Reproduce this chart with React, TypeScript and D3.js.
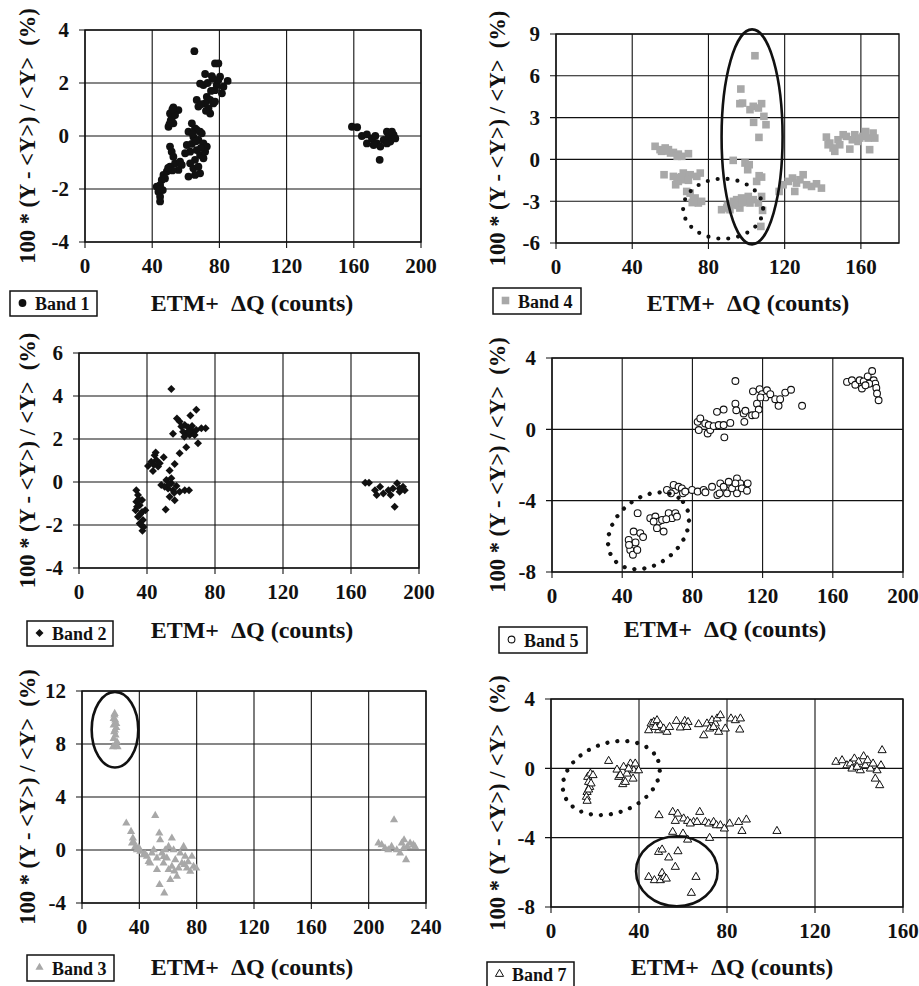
import React from 'react';
import * as d3 from 'd3';

// ---------- DATA ----------
const band1: [number, number][] = [
  [65.1, 3.2], [77.4, 2.74], [79.4, 2.74], [71.5, 2.34], [75.5, 2.26], [80.4, 2.24], [84.9, 2.08],
  [68.5, 1.98], [70.5, 1.92], [78.4, 1.92], [82.4, 1.86], [81.5, 1.61], [77.4, 1.73], [72.5, 1.48],
  [74.5, 1.36], [66.5, 1.36], [67.5, 1.11], [71.5, 1.23], [73.5, 1.04], [76.4, 1.23], [74.5, 0.85],
  [77.4, 1.3], [79.4, 2.11], [76.0, 2.17], [73.0, 2.0], [75.0, 1.7], [69.0, 1.2], [72.0, 0.95],
  [52.6, 1.08], [55.6, 0.98], [50.6, 0.85], [51.6, 0.67], [49.7, 0.35], [52.6, 0.48], [51.0, 0.58],
  [50.3, 0.45], [53.6, 0.79], [52.0, 1.0],
  [63.6, 0.48], [65.5, 0.29], [68.5, 0.16], [61.6, 0.16], [64.5, -0.03], [67.5, -0.15], [70.5, -0.28],
  [72.5, -0.4], [60.6, -0.34], [62.6, -0.59], [59.6, -0.65], [66.5, -0.53], [68.5, -0.72], [70.5, -0.84],
  [65.5, -0.9], [62.6, -1.03], [64.5, -1.22], [67.5, -1.16], [61.6, -1.53], [65.5, -1.47], [68.5, -1.41],
  [69.5, 0.1], [66.5, 0.23], [71.5, -0.59], [63.5, -0.3], [66.0, -0.2], [69.0, -0.45], [64.0, 0.1],
  [50.6, -0.4], [51.6, -0.59], [52.6, -0.78], [53.6, -1.03], [56.6, -0.97], [50.6, -1.16], [48.7, -1.34],
  [46.7, -1.47], [45.7, -1.66], [44.7, -1.85], [42.7, -1.91], [43.7, -2.1], [44.7, -2.29], [44.7, -2.47],
  [46.3, -2.04], [47.6, -1.6], [57.6, -1.09], [55.6, -1.28], [52.0, -1.3], [49.5, -1.2], [45.0, -2.0],
  [158.9, 0.35], [162.0, 0.33], [164.8, 0.0], [167.8, 0.06], [167.8, -0.28], [170.8, -0.09], [172.8, 0.0],
  [173.8, -0.28], [175.8, -0.4], [175.4, -0.9], [177.8, -0.15], [179.7, 0.16], [180.7, -0.03], [181.7, -0.21],
  [183.7, 0.04], [184.7, -0.09], [182.7, 0.16], [179.7, -0.28], [171.8, -0.34],
];

const band4: [number, number][] = [
  [104.4, 7.44], [97.0, 5.05], [96.5, 4.0], [97.9, 4.04], [107.9, 4.0], [103.5, 3.81], [101.8, 3.57],
  [106.2, 3.69], [109.1, 3.09], [110.2, 2.49], [103.7, 2.66], [106.5, 1.58],
  [93.0, -0.07], [99.2, -0.26], [100.6, -0.74], [101.4, -0.38], [105.3, -1.58], [107.9, -1.27], [106.6, -1.17],
  [86.9, -3.61], [89.6, -3.49], [92.2, -3.25], [94.8, -2.89], [96.5, -3.49], [99.2, -3.01], [100.9, -2.66],
  [103.5, -2.89], [106.2, -3.13], [107.9, -2.66], [108.4, -3.66], [107.5, -4.81], [93.1, -3.01], [91.3, -3.61],
  [97.4, -2.77], [101.8, -3.13], [95.5, -3.3], [98.0, -3.1], [90.0, -3.3],
  [52.0, 0.94], [54.6, 0.7], [57.3, 0.82], [59.0, 0.7], [61.6, 0.5], [64.2, 0.38], [66.0, 0.22], [69.5, 0.41],
  [55.4, 0.58], [60.1, 0.46], [63.6, 0.22], [58.0, 0.6],
  [56.7, -1.1], [61.6, -1.22], [64.2, -1.58], [66.8, -0.98], [70.4, -1.1], [73.9, -1.22], [75.7, -0.98],
  [62.8, -1.82], [67.8, -1.46], [70.4, -2.42], [73.0, -2.77], [74.7, -3.13], [72.1, -2.89], [68.6, -2.3],
  [76.4, -3.01], [63.5, -1.3], [66.0, -1.25], [71.5, -3.1], [69.5, -1.5],
  [117.1, -2.3], [119.2, -1.82], [121.9, -1.58], [124.1, -1.34], [125.3, -2.3], [126.2, -1.7], [129.7, -1.1],
  [131.5, -1.82], [134.1, -1.94], [136.7, -1.75], [139.3, -2.06], [128.0, -1.46],
  [141.9, 1.6], [143.7, 1.17], [145.4, 0.82], [146.3, 0.58], [148.0, 1.41], [150.7, 1.77], [152.4, 1.65],
  [154.2, 0.74], [155.5, 1.41], [156.8, 1.77], [158.5, 1.29], [161.1, 1.65], [162.5, 2.0], [163.8, 1.53],
  [164.6, 0.7], [166.4, 1.89], [167.3, 1.53], [142.8, 1.05], [148.9, 1.05], [159.4, 1.53],
];

const band2: [number, number][] = [
  [54.3, 4.33],
  [69.0, 3.36], [65.5, 3.09], [57.6, 2.95], [59.2, 2.81], [62.2, 2.65], [64.1, 2.55], [66.1, 2.42], [69.0, 2.42],
  [72.0, 2.5], [74.5, 2.5], [67.1, 2.27], [63.1, 2.27], [60.2, 2.58], [61.2, 2.34], [65.1, 2.19], [55.3, 2.24],
  [70.0, 1.8], [63.1, 1.62], [59.2, 1.34], [68.0, 2.19], [62.0, 2.1], [64.5, 2.35], [66.5, 2.6],
  [56.3, 0.84], [53.3, 0.53],
  [40.6, 0.74], [44.5, 1.25], [45.5, 1.02], [42.5, 0.94], [46.5, 0.72], [43.5, 0.51], [47.5, 0.87], [49.8, 1.15],
  [45.1, 1.37], [44.0, 0.8],
  [48.4, -0.14], [51.4, 0.09], [54.3, 0.17], [52.4, -0.3], [55.3, -0.38], [57.3, -0.19], [59.2, -0.45],
  [62.2, -0.38], [64.7, -0.38], [53.3, -0.69], [56.3, -0.85], [51.0, -1.28], [54.3, -0.06], [50.4, -0.22],
  [53.0, -0.1], [56.0, -0.5],
  [33.7, -0.38], [34.7, -0.61], [33.7, -0.92], [35.7, -1.08], [33.3, -1.31], [37.1, -1.39], [34.7, -1.62],
  [37.6, -1.77], [35.7, -1.93], [38.0, -2.09], [37.3, -2.27], [34.1, -1.15], [37.1, -0.84], [39.0, -1.31],
  [36.0, -1.5], [35.0, -0.8], [36.5, -2.0],
  [168.4, -0.03], [170.6, -0.03], [174.1, -0.38], [175.1, -0.61], [177.1, -0.22], [179.0, -0.53], [182.0, -0.38],
  [183.3, -0.61], [185.7, -1.15], [187.1, -0.06], [188.6, -0.45], [190.6, -0.22], [191.6, -0.38], [184.7, -0.3],
  [188.6, -0.3],
];

const band5: [number, number][] = [
  [168.1, 2.66], [170.9, 2.75], [172.8, 2.5], [175.3, 2.75], [177.6, 2.69], [176.6, 2.29], [179.9, 2.97],
  [182.4, 3.27], [183.3, 2.75], [184.2, 2.56], [184.8, 2.32], [185.2, 2.01], [186.1, 1.63], [180.7, 2.56],
  [178.6, 2.47],
  [83.0, 0.42], [84.5, 0.61], [83.6, -0.04], [87.3, 0.33], [88.7, -0.23], [90.2, -0.04], [89.3, 0.24],
  [92.1, 0.18], [94.0, 0.98], [95.0, 0.24], [97.8, 1.11], [98.2, -0.45], [97.8, 0.24], [101.6, 0.36],
  [104.5, 2.71], [104.5, 1.44], [105.0, 1.07], [109.2, 0.89], [110.2, 1.04], [109.6, 0.42], [114.0, 0.79],
  [114.5, 2.13], [116.8, 1.44], [117.8, 1.11], [118.3, 2.25], [119.7, 1.97], [121.6, 1.79], [122.5, 2.19],
  [124.4, 1.97], [127.2, 1.69], [129.1, 1.32], [130.0, 1.69], [132.9, 2.06], [136.2, 2.22], [142.5, 1.32],
  [118.8, 1.79], [115.9, 0.81],
  [70.3, -3.4], [69.3, -3.12], [72.1, -3.22], [74.0, -3.31], [74.6, -3.59], [75.9, -3.49], [65.5, -3.4],
  [67.8, -3.59], [79.8, -3.4], [83.0, -3.49], [86.4, -3.4], [87.4, -3.53], [91.2, -3.22], [94.2, -3.68],
  [95.5, -3.59], [95.9, -3.03], [97.8, -3.22], [99.7, -3.59], [101.6, -3.12], [102.6, -3.31], [105.4, -2.75],
  [105.4, -3.59], [107.3, -3.03], [108.2, -3.31], [111.1, -3.44], [111.5, -3.03], [104.5, -3.03], [100.7, -2.94],
  [48.8, -4.7], [56.0, -4.98], [58.9, -4.89], [60.8, -5.17], [62.7, -5.08], [59.8, -5.54], [63.6, -5.73],
  [66.5, -4.7], [68.4, -4.98], [70.3, -4.7], [71.2, -4.89], [65.1, -5.04], [57.9, -5.17], [46.5, -5.73],
  [50.3, -5.82], [51.9, -6.04], [43.7, -6.2], [44.6, -6.76], [46.1, -7.03], [47.6, -6.34], [48.6, -6.76],
  [43.9, -6.48],
];

const band3: [number, number][] = [
  [22.8, 10.3], [22.6, 10.17], [23.2, 9.8], [22.1, 9.42], [23.9, 9.24], [22.5, 8.91], [23.4, 8.66],
  [22.1, 8.41], [24.4, 8.16], [23.0, 7.91], [21.6, 7.79], [24.8, 7.79], [23.0, 9.04], [23.9, 9.54], [22.1, 9.92],
  [30.9, 2.02], [34.2, 1.39], [35.5, 0.89], [34.9, 0.51], [37.2, 0.26], [38.3, 0.01], [40.7, -0.11],
  [42.9, -0.36], [45.3, -0.49], [47.6, -0.99], [48.8, -0.24], [51.1, 2.6], [52.3, -0.61], [53.9, 1.27],
  [54.5, 0.76], [55.8, -0.24], [56.9, -0.99], [54.1, -2.62], [57.4, -3.25], [59.2, -0.61], [60.4, -1.49],
  [61.6, -2.24], [62.7, 0.89], [63.9, 0.01], [65.1, -0.74], [66.2, -1.99], [67.4, -1.37], [68.5, -0.24],
  [69.7, -0.99], [70.9, 0.26], [72.0, -0.49], [73.2, -1.37], [75.5, -1.62], [76.7, -0.49], [77.8, -1.24],
  [79.7, -1.37], [52.3, -1.49], [62.7, -1.24], [50.0, 0.01], [46.5, -0.87], [58.1, 0.01], [60.4, 0.26],
  [44.0, -0.3], [36.0, 0.6], [39.5, 0.2], [64.5, -1.6], [71.5, -1.1], [74.0, -0.9], [57.0, -0.5],
  [206.8, 0.51], [209.1, 0.39], [211.4, 0.14], [213.7, 0.01], [216.0, 0.26], [217.7, 2.27], [219.6, 0.01],
  [221.9, -0.24], [223.1, 0.51], [224.7, 0.76], [226.1, -0.74], [227.0, 0.26], [228.9, 0.51], [231.2, 0.39],
  [232.3, 0.26], [224.4, 0.14],
];

const band7: [number, number][] = [
  [44.4, 2.19], [45.5, 2.58], [46.7, 2.67], [48.2, 2.77], [48.9, 2.19], [49.7, 2.48], [51.2, 2.29], [52.7, 2.1],
  [53.9, 2.38], [57.0, 2.73], [58.8, 2.35], [60.8, 2.73], [62.3, 2.67], [61.8, 2.38], [67.1, 2.54], [69.4, 1.9],
  [70.9, 2.58], [72.1, 2.29], [73.2, 2.77], [74.7, 2.58], [75.5, 2.87], [76.2, 2.1], [77.0, 3.06], [79.2, 2.29],
  [81.8, 2.87], [83.8, 2.77], [85.8, 2.23], [86.1, 2.87], [73.9, 2.38], [47.4, 2.38],
  [16.7, -0.5], [17.9, -0.31], [19.1, -0.4], [17.1, -0.79], [17.6, -1.08], [16.4, -1.37], [16.1, -1.65],
  [16.4, -1.88], [18.2, -0.88], [17.1, -1.23],
  [26.2, 0.42], [30.0, -0.08], [30.8, -0.5], [33.0, 0.08], [32.6, -0.92], [33.8, -0.79], [34.5, -0.31],
  [36.1, 0.27], [37.3, -0.6], [37.6, -0.12], [38.3, 0.27], [39.8, -0.12], [31.5, -0.4], [35.3, -0.02],
  [49.1, -2.71], [55.3, -2.52], [57.6, -2.62], [56.5, -3.04], [60.3, -2.9], [62.1, -3.04], [64.8, -3.1],
  [67.6, -2.52], [70.2, -3.1], [71.7, -3.19], [73.9, -3.1], [75.2, -3.29], [77.0, -3.29], [78.8, -3.48],
  [81.2, -3.19], [85.3, -3.1], [86.8, -3.62], [88.8, -2.96], [55.3, -3.67], [60.0, -3.77], [62.1, -4.12],
  [72.1, -4.02], [102.7, -3.62], [66.4, -3.1], [63.3, -3.19],
  [48.9, -4.83], [50.5, -4.69], [53.5, -5.15], [57.7, -4.79], [56.5, -5.69], [44.4, -6.27], [47.0, -6.46],
  [49.7, -6.46], [50.5, -6.04], [51.5, -6.27], [52.4, -6.37], [65.9, -6.27], [63.8, -7.19],
  [129.5, 0.37], [132.3, 0.46], [134.5, 0.17], [136.1, 0.27], [136.8, -0.02], [137.9, 0.56], [139.8, 0.37],
  [140.6, -0.12], [142.1, 0.69], [142.9, 0.17], [143.9, 0.46], [145.2, -0.02], [146.4, 0.27], [147.4, -0.6],
  [148.2, -0.12], [149.4, -0.98], [150.5, 1.04], [150.0, 0.17], [139.1, 0.08],
];

// tick values
const xTicks200 = [0, 40, 80, 120, 160, 200];
const xTicks180 = [0, 40, 80, 120, 160];
const xTicks240 = [0, 40, 80, 120, 160, 200, 240];
const xTicks160 = [0, 40, 80, 120, 160];
const yTicksB1 = [-4, -2, 0, 2, 4];
const yTicksB4 = [-6, -3, 0, 3, 6, 9];
const yTicksB2 = [-4, -2, 0, 2, 4, 6];
const yTicksB5 = [-8, -4, 0, 4];
const yTicksB3 = [-4, 0, 4, 8, 12];
const yTicksB7 = [-8, -4, 0, 4];

const bandLabels = ['Band 1', 'Band 4', 'Band 2', 'Band 5', 'Band 3', 'Band 7'];
const xTitle = 'ETM+  \u0394Q (counts)';
const yTitle = '100 * (Y - <Y>) / <Y>  (%)';

// ---------- LAYOUT ----------
type Marker = 'filledCircle' | 'graySquare' | 'diamond' | 'openCircle' | 'grayTriangle' | 'openTriangle';
type Ell = { cx: number; cy: number; rx: number; ry: number; rot: number; dotted: boolean };
type Panel = {
  data: [number, number][];
  label: string;
  marker: Marker;
  L: number; T: number; R: number; B: number;
  xDomain: [number, number]; xTicks: number[];
  yDomain: [number, number]; yTicks: number[];
  legend: { x: number; y: number; w: number; h: number };
  xTitleX: number; xTitleY: number; yTitleX: number;
  ellipses: Ell[];
};

const panels: Panel[] = [
  {
    data: band1, label: bandLabels[0], marker: 'filledCircle',
    L: 85, T: 30, R: 421, B: 242, xDomain: [0, 200], xTicks: xTicks200, yDomain: [-4, 4], yTicks: yTicksB1,
    legend: { x: 10, y: 291, w: 87, h: 25 }, xTitleX: 252, xTitleY: 311, yTitleX: 27, ellipses: [],
  },
  {
    data: band4, label: bandLabels[1], marker: 'graySquare',
    L: 556, T: 34, R: 899, B: 243, xDomain: [0, 180], xTicks: xTicks180, yDomain: [-6, 9], yTicks: yTicksB4,
    legend: { x: 493, y: 288, w: 88, h: 26 }, xTitleX: 748, xTitleY: 311, yTitleX: 497,
    ellipses: [
      { cx: 102.9, cy: 1.62, rx: 30.5, ry: 107.5, rot: 0, dotted: false },
      { cx: 87.7, cy: -3.54, rx: 40, ry: 30, rot: 0, dotted: true },
    ],
  },
  {
    data: band2, label: bandLabels[2], marker: 'diamond',
    L: 79, T: 353, R: 419, B: 568, xDomain: [0, 200], xTicks: xTicks200, yDomain: [-4, 6], yTicks: yTicksB2,
    legend: { x: 27, y: 621, w: 86, h: 25 }, xTitleX: 252, xTitleY: 638, yTitleX: 27, ellipses: [],
  },
  {
    data: band5, label: bandLabels[3], marker: 'openCircle',
    L: 552, T: 358, R: 903, B: 572, xDomain: [0, 200], xTicks: xTicks200, yDomain: [-8, 4], yTicks: yTicksB5,
    legend: { x: 499, y: 627, w: 88, h: 26 }, xTitleX: 725, xTitleY: 637, yTitleX: 497,
    ellipses: [{ cx: 55, cy: -5.69, rx: 45, ry: 33, rot: -40, dotted: true }],
  },
  {
    data: band3, label: bandLabels[4], marker: 'grayTriangle',
    L: 82, T: 691, R: 426, B: 903, xDomain: [0, 240], xTicks: xTicks240, yDomain: [-4, 12], yTicks: yTicksB3,
    legend: { x: 27, y: 955, w: 87, h: 26 }, xTitleX: 252, xTitleY: 975, yTitleX: 27,
    ellipses: [{ cx: 23, cy: 9.08, rx: 23.3, ry: 37.8, rot: 0, dotted: false }],
  },
  {
    data: band7, label: bandLabels[5], marker: 'openTriangle',
    L: 551, T: 699, R: 903, B: 907, xDomain: [0, 160], xTicks: xTicks160, yDomain: [-8, 4], yTicks: yTicksB7,
    legend: { x: 487, y: 962, w: 87, h: 25 }, xTitleX: 732, xTitleY: 975, yTitleX: 497,
    ellipses: [
      { cx: 27.4, cy: -0.56, rx: 50, ry: 35, rot: -20, dotted: true },
      { cx: 57.2, cy: -5.94, rx: 40.8, ry: 35, rot: 0, dotted: false },
    ],
  },
];

const FONT = "'Liberation Serif', Tinos, 'Times New Roman', Times, 'DejaVu Serif', serif";
const INK = '#111';
const GRAY = '#a8a8a8';

const diamondPath = d3.symbol().type(d3.symbolSquare).size(32)() as string;
const trianglePath = d3.symbol().type(d3.symbolTriangle).size(29)() as string;

function Mark({ type, x, y }: { type: Marker; x: number; y: number }) {
  switch (type) {
    case 'filledCircle':
      return <circle cx={x} cy={y} r={3.9} fill={INK} />;
    case 'graySquare':
      return <rect x={x - 3.8} y={y - 3.8} width={7.6} height={7.6} fill={GRAY} />;
    case 'diamond':
      return <path d={diamondPath} transform={`translate(${x},${y}) rotate(45)`} fill={INK} />;
    case 'openCircle':
      return <circle cx={x} cy={y} r={3.4} fill="#fff" stroke={INK} strokeWidth={1.1} />;
    case 'grayTriangle':
      return <path d={trianglePath} transform={`translate(${x},${y})`} fill={GRAY} />;
    case 'openTriangle':
      return <path d={trianglePath} transform={`translate(${x},${y})`} fill="#fff" stroke={INK} strokeWidth={1} />;
  }
  return null;
}

const txt = (size: number): React.CSSProperties => ({
  fontFamily: FONT,
  fontSize: size,
  fontWeight: 700,
  whiteSpace: 'pre',
});

function PanelView({ p }: { p: Panel }) {
  const x = d3.scaleLinear().domain(p.xDomain).range([p.L, p.R]);
  const y = d3.scaleLinear().domain(p.yDomain).range([p.B, p.T]);
  const cy = (p.T + p.B) / 2;
  return (
    <g>
      {p.xTicks.map((t) => (
        <line key={'gx' + t} x1={x(t)} x2={x(t)} y1={p.T} y2={p.B + 6} stroke={INK} strokeWidth={1.1} />
      ))}
      {p.yTicks.map((t) => (
        <line key={'gy' + t} x1={p.L - 6} x2={p.R} y1={y(t)} y2={y(t)} stroke={INK} strokeWidth={1.1} />
      ))}
      <rect x={p.L} y={p.T} width={p.R - p.L} height={p.B - p.T} fill="none" stroke={INK} strokeWidth={1.4} />
      {p.xTicks.map((t) => (
        <text key={'lx' + t} x={x(t)} y={p.B + 31} textAnchor="middle" fill={INK} style={txt(21)}>
          {t}
        </text>
      ))}
      {p.yTicks.map((t) => (
        <text key={'ly' + t} x={p.L - 16} y={y(t)} dy="0.35em" textAnchor="end" fill={INK} style={txt(21)}>
          {t}
        </text>
      ))}
      {p.data.map((d, i) => (
        <Mark key={i} type={p.marker} x={x(d[0])} y={y(d[1])} />
      ))}
      {p.ellipses.map((e, i) => (
        <ellipse
          key={'e' + i}
          cx={0}
          cy={0}
          rx={e.rx}
          ry={e.ry}
          transform={`translate(${x(e.cx)},${y(e.cy)}) rotate(${e.rot})`}
          fill="none"
          stroke={INK}
          strokeWidth={e.dotted ? 4.2 : 2.6}
          strokeDasharray={e.dotted ? '0 10' : undefined}
          strokeLinecap={e.dotted ? 'round' : 'butt'}
        />
      ))}
      <text x={p.xTitleX} y={p.xTitleY} textAnchor="middle" fill={INK} style={txt(24)}>
        {xTitle}
      </text>
      <text
        transform={`translate(${p.yTitleX},${cy}) rotate(-90)`}
        textAnchor="middle"
        dy="0.35em"
        fill={INK}
        style={txt(22.5)}
      >
        {yTitle}
      </text>
      <rect x={p.legend.x} y={p.legend.y} width={p.legend.w} height={p.legend.h} fill="#fff" stroke={INK} strokeWidth={1.5} />
      <Mark type={p.marker} x={p.legend.x + 12.5} y={p.legend.y + p.legend.h / 2 - 0.5} />
      <text x={p.legend.x + 25} y={p.legend.y + p.legend.h / 2 + 6.5} fill={INK} style={txt(18)}>
        {p.label}
      </text>
    </g>
  );
}

export default function App() {
  return (
    <svg
      width={919}
      height={986}
      viewBox="0 0 919 986"
      style={{ position: 'absolute', left: 0, top: 0, background: '#fff', display: 'block' }}
    >
      <rect x={0} y={0} width={919} height={986} fill="#fff" />
      {panels.map((p, i) => (
        <PanelView key={i} p={p} />
      ))}
    </svg>
  );
}
